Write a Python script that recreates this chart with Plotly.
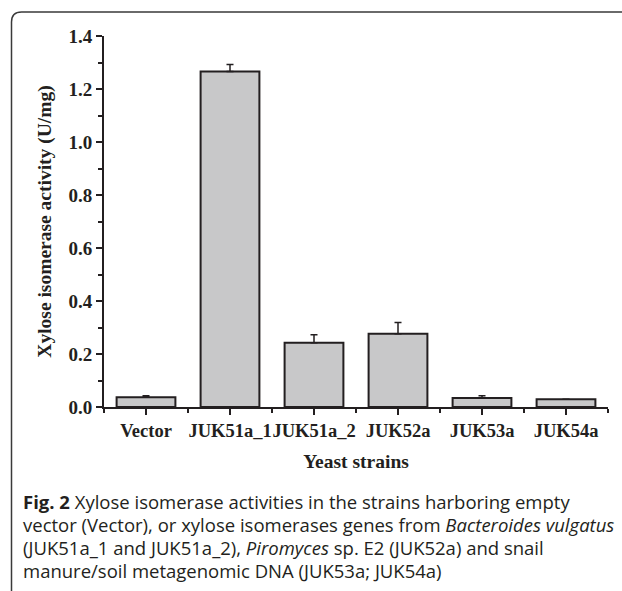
import plotly.graph_objects as go

categories = ["Vector", "JUK51a_1", "JUK51a_2", "JUK52a", "JUK53a", "JUK54a"]
activity = [0.037, 1.266, 0.242, 0.276, 0.034, 0.029]
error_up = [0.005, 0.026, 0.031, 0.043, 0.008, 0.0]
y_ticks = [0.0, 0.2, 0.4, 0.6, 0.8, 1.0, 1.2, 1.4]
y_ticklabels = ["0.0", "0.2", "0.4", "0.6", "0.8", "1.0", "1.2", "1.4"]
caption_lines = [
    "<b>Fig. 2</b> Xylose isomerase activities in the strains harboring empty",
    "vector (Vector), or xylose isomerases genes from <i>Bacteroides vulgatus</i>",
    "(JUK51a_1 and JUK51a_2), <i>Piromyces</i> sp. E2 (JUK52a) and snail",
    "manure/soil metagenomic DNA (JUK53a; JUK54a)",
]

W, H = 622, 591
L, R, T, B = 104, 14, 36, 184
pw, ph = W - L - R, H - T - B

def px(x):
    return (x - L) / pw

def py(y):
    return (H - B - y) / ph

xpos = list(range(len(categories)))
ink = "#231f20"
serif = "Liberation Serif"

fig = go.Figure()
fig.add_trace(go.Bar(
    x=xpos, y=activity, width=0.7,
    marker=dict(color="#c8c8c9", line=dict(color=ink, width=2)),
    error_y=dict(type="data", symmetric=False, array=error_up,
                 arrayminus=[0] * len(error_up), color=ink, thickness=1.5, width=3.5),
))

fig.update_layout(
    width=W, height=H,
    margin=dict(l=L, r=R, t=T, b=B),
    paper_bgcolor="white", plot_bgcolor="white",
    showlegend=False,
    xaxis=dict(
        range=[-0.5, 5.5], tickvals=xpos, ticktext=categories, tickangle=0,
        showline=True, linecolor=ink, linewidth=2, showgrid=False, zeroline=False,
        ticks="outside", ticklen=6, tickwidth=2, tickcolor=ink,
        tickfont=dict(family=serif, size=18.5, color=ink, weight="bold"),
        minor=dict(tickvals=[i - 0.5 for i in range(len(categories) + 1)],
                   ticks="outside", ticklen=4, tickwidth=2, tickcolor=ink, showgrid=False),
        title=dict(text="Yeast strains", font=dict(family=serif, size=19.5, color=ink, weight="bold"),
                   standoff=14),
    ),
    yaxis=dict(
        range=[0, 1.4], tickvals=y_ticks, ticktext=y_ticklabels,
        showline=True, linecolor=ink, linewidth=2, showgrid=False, zeroline=False,
        ticks="outside", ticklen=6, tickwidth=2, tickcolor=ink,
        tickfont=dict(family=serif, size=19, color=ink, weight="bold"),
        minor=dict(dtick=0.1, tick0=0, ticks="outside", ticklen=4, tickwidth=2,
                   tickcolor=ink, showgrid=False),
        title=dict(text="Xylose isomerase activity (U/mg)",
                   font=dict(family=serif, size=19.5, color=ink, weight="bold"), standoff=12),
    ),
)

# figure frame (rounded top-left corner, open to right and bottom)
x0, y0, r = 11.5, 12, 10
path = (f"M {px(x0)},{py(H + 5)} L {px(x0)},{py(y0 + r)} "
        f"Q {px(x0)},{py(y0)} {px(x0 + r)},{py(y0)} L {px(W + 5)},{py(y0)}")
fig.add_shape(type="path", path=path, xref="paper", yref="paper",
              line=dict(color="#3a3a3a", width=1.5))

caption_y = [501, 524, 547, 570]
for text, yc in zip(caption_lines, caption_y):
    fig.add_annotation(text=text, xref="paper", yref="paper", x=px(21), y=py(yc),
                       xanchor="left", yanchor="middle", showarrow=False,
                       font=dict(family="Open Sans", size=18.5, color=ink))

fig.write_html("out.html")
